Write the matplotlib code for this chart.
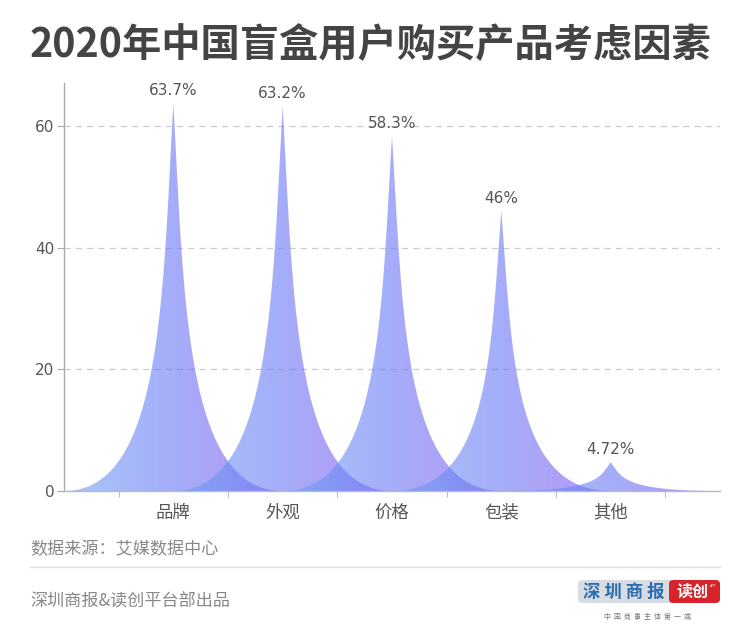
import numpy as np
import matplotlib
matplotlib.use("Agg")
import matplotlib.pyplot as plt
from matplotlib.patches import Polygon, FancyBboxPatch
from matplotlib.lines import Line2D

plt.rcParams['font.family'] = ['Noto Sans CJK SC', 'DejaVu Sans']
NUM_FONT = ['DejaVu Sans']

# ---- data ----
categories = ['品牌', '外观', '价格', '包装', '其他']
values = [63.7, 63.2, 58.3, 46, 4.72]
value_labels = ['63.7%', '63.2%', '58.3%', '46%', '4.72%']
yticks = [0, 20, 40, 60]

title = '2020年中国盲盒用户购买产品考虑因素'
source = '数据来源：艾媒数据中心'
credit = '深圳商报&读创平台部出品'

W_PX, H_PX, DPI = 750, 638, 100
fig = plt.figure(figsize=(W_PX / DPI, H_PX / DPI), dpi=DPI)

def fx(px):
    return px / W_PX

def fy(py):
    return 1 - py / H_PX

ymax = 67.0
ax_left, ax_right, ax_bottom = 64, 720, 491
px_per_unit = (491 - 126) / 60.0
ax_top = ax_bottom - ymax * px_per_unit
ax = fig.add_axes([fx(ax_left), fy(ax_bottom), (ax_right - ax_left) / W_PX,
                   (ax_bottom - ax_top) / H_PX])

n_bands = len(categories) + 1
ax.set_xlim(0, n_bands)
ax.set_ylim(0, ymax)

# gradient colours (left -> right)
c_left = np.array([108, 164, 242]) / 255
c_mid = np.array([106, 118, 246]) / 255
c_right = np.array([132, 80, 238]) / 255
ng = 256
tt = np.linspace(0, 1, ng)
grad = np.zeros((2, ng, 3))
for i, t in enumerate(tt):
    if t < 0.5:
        c = c_left + (c_mid - c_left) * (t / 0.5)
    else:
        c = c_mid + (c_right - c_mid) * ((t - 0.5) / 0.5)
    grad[:, i, :] = c

def spike(center, h, width):
    # path: M0,10 L10,10 C5.5,10 5.5,5 5,0 C4.5,5 4.5,10 0,10 z (y flipped)
    t = np.linspace(0, 1, 200)
    def bez(p0, p1, p2, p3):
        return (((1 - t) ** 3)[:, None] * p0 + (3 * (1 - t) ** 2 * t)[:, None] * p1
                + (3 * (1 - t) * t ** 2)[:, None] * p2 + (t ** 3)[:, None] * p3)
    s = width / 10.0
    def P(x, y):
        return np.array([center - width / 2 + x * s, h * (10 - y) / 10.0])
    right = bez(P(10, 10), P(5.5, 10), P(5.5, 5), P(5, 0))
    left = bez(P(5, 0), P(4.5, 5), P(4.5, 10), P(0, 10))
    return np.vstack([P(0, 10)[None, :], right, left])

for i, (cat, v) in enumerate(zip(categories, values)):
    cx = i + 1
    width = 2.0
    pts = spike(cx, v, width)
    poly = Polygon(pts, closed=True, facecolor='none', edgecolor='none')
    ax.add_patch(poly)
    im = ax.imshow(grad, extent=[cx - width / 2, cx + width / 2, 0, v],
                   aspect='auto', alpha=0.6, zorder=2 + i, interpolation='bilinear')
    im.set_clip_path(poly)
    ax.annotate(value_labels[i], xy=(cx, v), xytext=(0, 4), textcoords='offset points',
                ha='center', va='bottom', fontsize=11, color='#555555', zorder=10,
                family=NUM_FONT)

ax.set_xlim(0, n_bands)
ax.set_ylim(0, ymax)

# grid
for yv in yticks[1:]:
    ax.axhline(yv, color='#cccccc', lw=0.9, ls=(0, (5, 4)), zorder=1)

# axes styling
for sp in ['top', 'right']:
    ax.spines[sp].set_visible(False)
ax.spines['left'].set_color('#aaaaaa')
ax.spines['bottom'].set_color('#b5b9c8')
ax.spines['left'].set_linewidth(1)
ax.spines['bottom'].set_linewidth(1)
ax.spines['bottom'].set_zorder(20)

ax.set_yticks(yticks)
ax.set_yticklabels([str(y) for y in yticks], family=NUM_FONT)
ax.tick_params(axis='y', length=5, width=0.8, color='#aaaaaa', pad=2,
               labelsize=11, labelcolor='#555555')

ax.set_xticks(np.arange(1, n_bands))
ax.set_xticklabels(categories)
ax.set_xticks(np.arange(0.5, n_bands, 1.0), minor=True)
ax.tick_params(axis='x', which='major', length=0, pad=9, labelsize=12.5,
               labelcolor='#555555')
ax.tick_params(axis='x', which='minor', length=4, width=0.8, color='#b5b9c8')

# title and footer
fig.text(fx(30), fy(46), title, fontsize=28.3, fontweight='bold', color='#444444',
         ha='left', va='center')
fig.text(fx(30), fy(549), source, fontsize=12.3, color='#888888', ha='left', va='center')
fig.add_artist(Line2D([fx(30), fx(720)], [fy(567), fy(567)], color='#dddddd', lw=1))
fig.text(fx(30), fy(601), credit, fontsize=12.3, color='#888888', ha='left', va='center')

# logo
gray_box = FancyBboxPatch((fx(578), fy(603)), fx(96), (603 - 580) / H_PX,
                          boxstyle='round,pad=0,rounding_size=0.006',
                          facecolor='#d9dde3', edgecolor='none', transform=fig.transFigure)
fig.add_artist(gray_box)
red_box = FancyBboxPatch((fx(669), fy(603)), fx(51), (603 - 580) / H_PX,
                         boxstyle='round,pad=0,rounding_size=0.006',
                         facecolor='#d7232a', edgecolor='none', transform=fig.transFigure)
fig.add_artist(red_box)
fig.text(fx(624), fy(592), '深 圳 商 报', fontsize=12.5, color='#2c6db0', ha='center',
         va='center', fontweight='bold')
fig.text(fx(692), fy(592), '读创', fontsize=11.5, color='white', ha='center',
         va='center', fontweight='bold')
fig.text(fx(710), fy(586), 'APP', fontsize=2.5, color='white', ha='left', va='center')
fig.text(fx(647), fy(617), '中  国  商  事  主  体  第  一  端', fontsize=5, color='#777777',
         ha='center', va='center')

fig.savefig('out.png', dpi=DPI)
